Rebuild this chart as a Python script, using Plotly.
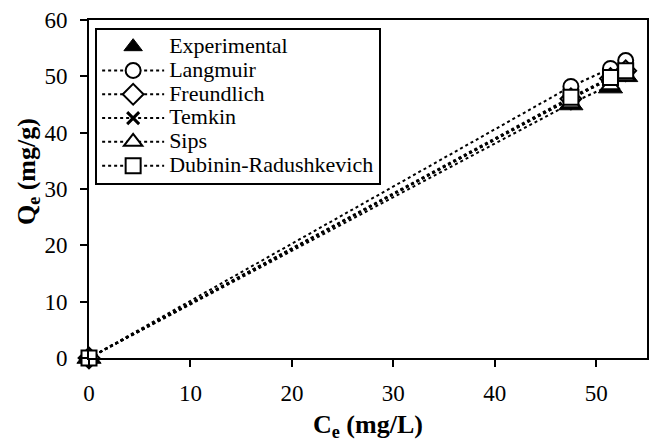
import plotly.graph_objects as go

ce = [0, 47.5, 51.4, 52.9]
experimental = [0, 45.0, 48.0, 50.0]
langmuir = [0, 48.2, 51.4, 52.8]
freundlich = [0, 46.0, 49.6, 51.0]
temkin = [0, 46.0, 49.6, 51.0]
sips = [0, 45.2, 48.4, 50.0]
dubinin = [0, 46.3, 49.8, 51.0]

FONT = "Liberation Serif, Times New Roman, serif"

def lg(name):
    return '<span style="font-size:22px">' + name + '</span>'

fig = go.Figure()
fig.add_trace(go.Scatter(
    x=ce, y=experimental, mode="markers", name=lg("Experimental"),
    marker=dict(symbol="triangle-up", size=21, color="black", line=dict(color="black", width=1)),
    cliponaxis=False))

models = [
    ("Langmuir", langmuir, "circle", 15),
    ("Freundlich", freundlich, "diamond", 16),
    ("Temkin", temkin, "x-thin-open", 12),
    ("Sips", sips, "triangle-up", 16),
    ("Dubinin-Radushkevich", dubinin, "square", 15),
]
for name, ys, sym, sz in models:
    mk = dict(symbol=sym, size=sz, color="white", line=dict(color="black", width=2))
    if sym == "x-thin-open":
        mk = dict(symbol=sym, size=sz, color="black", line=dict(color="black", width=3))
    fig.add_trace(go.Scatter(
        x=ce, y=ys, mode="lines+markers", name=lg(name),
        line=dict(color="black", width=2, dash="dot"),
        marker=mk, cliponaxis=False))

fig.update_layout(
    width=651, height=441,
    margin=dict(l=89, r=2, t=20, b=83),
    paper_bgcolor="white", plot_bgcolor="white",
    font=dict(family=FONT, color="black", size=22),
    showlegend=True,
    legend=dict(
        x=0.011, y=0.977, xanchor="left", yanchor="top",
        bgcolor="white", bordercolor="black", borderwidth=2,
        font=dict(family=FONT, size=16, color="black"),
        tracegroupgap=0, itemwidth=62,
    ),
    annotations=[
        dict(text="<b>C<sub>e</sub> (mg/L)</b>", xref="paper", yref="paper",
             x=0.5, y=0, xanchor="center", yanchor="middle", yshift=-68,
             showarrow=False, font=dict(family=FONT, size=26, color="black")),
        dict(text="<b>Q<sub>e</sub> (mg/g)</b>", xref="paper", yref="paper",
             x=0, y=0.55, xanchor="center", yanchor="middle", xshift=-61,
             textangle=-90, showarrow=False, font=dict(family=FONT, size=26, color="black")),
    ],
)
fig.update_xaxes(
    range=[0, 55], tickvals=[0, 10, 20, 30, 40, 50],
    showgrid=False, zeroline=False,
    showline=True, linecolor="black", linewidth=2, mirror=True,
    ticks="outside", ticklen=7, tickwidth=2, tickcolor="black",
    ticklabelstandoff=6,
    tickfont=dict(family=FONT, size=23, color="black"),
)
fig.update_yaxes(
    range=[0, 60], tickvals=[0, 10, 20, 30, 40, 50, 60],
    showgrid=False, zeroline=False,
    showline=True, linecolor="black", linewidth=2, mirror=True,
    ticks="outside", ticklen=7, tickwidth=2, tickcolor="black",
    ticklabelstandoff=8,
    tickfont=dict(family=FONT, size=23, color="black"),
)

fig.write_html("out.html")
